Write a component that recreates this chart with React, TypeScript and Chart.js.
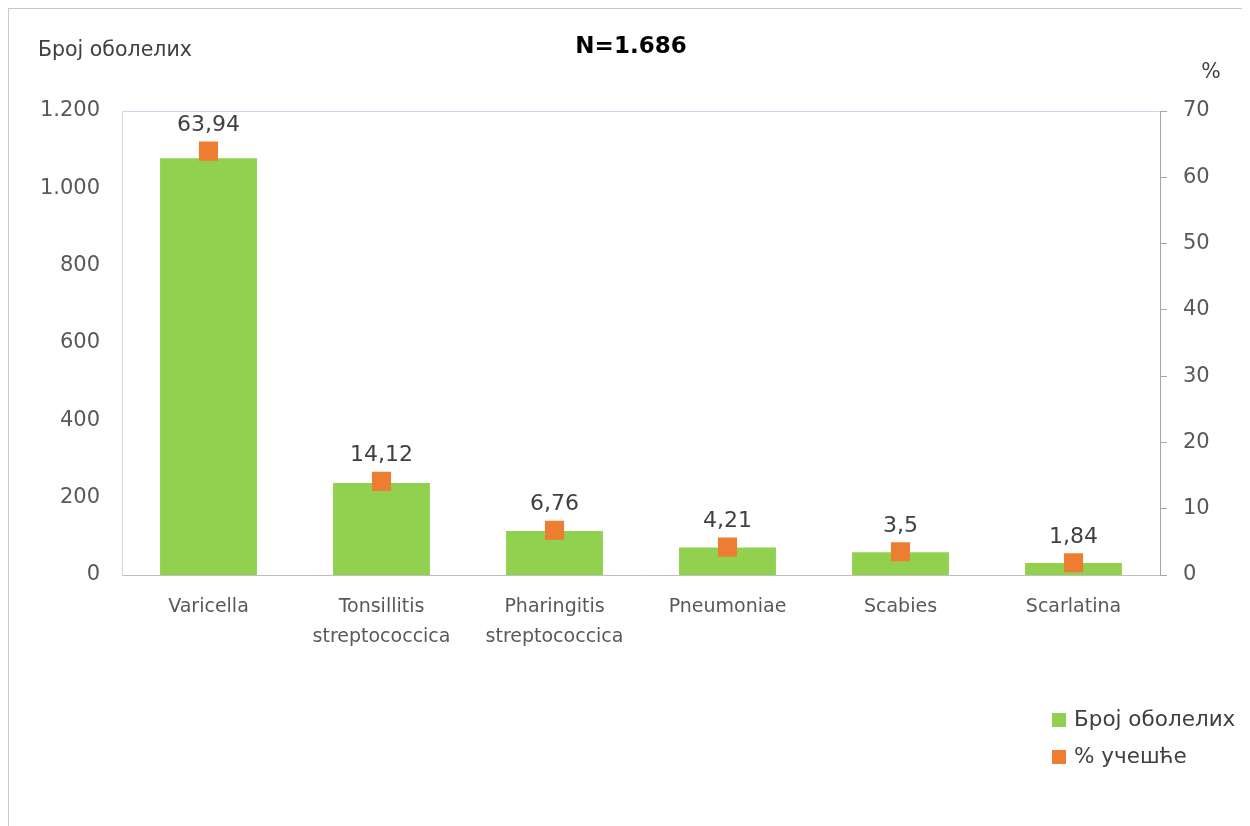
import React, { useEffect, useRef } from "react";
import { Chart, registerables } from "chart.js";

Chart.register(...registerables);

const categories: (string | string[])[] = [
  "Varicella",
  ["Tonsillitis", "streptococcica"],
  ["Pharingitis", "streptococcica"],
  "Pneumoniae",
  "Scabies",
  "Scarlatina",
];
const casesCount: number[] = [1078, 238, 114, 71, 59, 31];
const sharePercent: number[] = [63.94, 14.12, 6.76, 4.21, 3.5, 1.84];
const leftTicks: number[] = [0, 200, 400, 600, 800, 1000, 1200];
const rightTicks: number[] = [0, 10, 20, 30, 40, 50, 60, 70];

const seriesNames = ["Број оболелих", "% учешће"];
const titleText = "N=1.686";
const leftAxisTitle = "Број оболелих";
const rightAxisTitle = "%";

const GREEN = "#92D050";
const ORANGE = "#ED7D31";
const FONT = "'DejaVu Sans', sans-serif";

const fmtThousands = (v: number) =>
  String(v).replace(/\B(?=(\d{3})+(?!\d))/g, ".");

const decorPlugin = {
  id: "decor",
  afterDatasetsDraw(chart: any) {
    const ctx = chart.ctx as CanvasRenderingContext2D;
    const area = chart.chartArea;
    ctx.save();
    // top border of plot area
    ctx.strokeStyle = "#c9d7ea";
    ctx.lineWidth = 1;
    ctx.beginPath();
    ctx.moveTo(area.left, area.top + 0.5);
    ctx.lineTo(area.right, area.top + 0.5);
    ctx.stroke();

    // data labels for percentage series
    const meta = chart.getDatasetMeta(1);
    ctx.fillStyle = "#404040";
    ctx.font = `22px ${FONT}`;
    ctx.textAlign = "center";
    ctx.textBaseline = "middle";
    meta.data.forEach((pt: any, i: number) => {
      const txt = String(sharePercent[i]).replace(".", ",");
      ctx.fillText(txt, pt.x, pt.y - 26);
    });

    // titles
    ctx.fillStyle = "#000000";
    ctx.font = `bold 23px ${FONT}`;
    ctx.fillText(titleText, 622, 38);

    ctx.fillStyle = "#404040";
    ctx.font = `20.5px ${FONT}`;
    ctx.textAlign = "left";
    ctx.fillText(leftAxisTitle, 29, 42);
    ctx.textAlign = "center";
    ctx.fillText(rightAxisTitle, 1202, 64);

    // legend
    const colors = [GREEN, ORANGE];
    const ys = [711, 748];
    ctx.textAlign = "left";
    ctx.font = `21.5px ${FONT}`;
    seriesNames.forEach((name, i) => {
      ctx.fillStyle = colors[i];
      ctx.fillRect(1043, ys[i] - 7, 14, 14);
      ctx.fillStyle = "#404040";
      ctx.fillText(name, 1065, ys[i]);
    });
    ctx.restore();
  },
};

export default function App() {
  const ref = useRef<HTMLCanvasElement | null>(null);

  useEffect(() => {
    if (!ref.current) return;
    const chart = new Chart(ref.current, {
      type: "bar",
      data: {
        labels: categories as any,
        datasets: [
          {
            type: "bar",
            label: seriesNames[0],
            data: casesCount,
            backgroundColor: GREEN,
            borderWidth: 0,
            categoryPercentage: 1,
            barPercentage: 0.56,
            yAxisID: "y",
            order: 2,
          },
          {
            type: "line",
            label: seriesNames[1],
            data: sharePercent,
            showLine: false,
            pointStyle: "rect",
            pointRadius: 13.5,
            pointHoverRadius: 13.5,
            pointBackgroundColor: ORANGE,
            pointBorderWidth: 0,
            borderColor: ORANGE,
            backgroundColor: ORANGE,
            yAxisID: "y1",
            order: 1,
          } as any,
        ],
      },
      options: {
        animation: false,
        responsive: false,
        maintainAspectRatio: false,
        events: [],
        layout: { padding: { top: 102, left: 0, right: 0, bottom: 0 } },
        plugins: {
          legend: { display: false },
          title: { display: false },
          tooltip: { enabled: false },
        },
        scales: {
          x: {
            grid: { display: false, drawTicks: false },
            border: { display: true, color: "#bfbfbf", width: 1 },
            ticks: {
              color: "#595959",
              font: { family: FONT, size: 19, lineHeight: 1.58 },
              padding: 17,
              maxRotation: 0,
              autoSkip: false,
            },
            afterFit(scale: any) {
              scale.height = 254;
            },
          },
          y: {
            position: "left",
            min: 0,
            max: 1200,
            afterBuildTicks(scale: any) {
              scale.ticks = leftTicks.map((v) => ({ value: v }));
            },
            grid: { display: false, drawTicks: false },
            border: { display: true, color: "#c9d7ea", width: 1 },
            ticks: {
              color: "#595959",
              font: { family: FONT, size: 21 },
              padding: 22,
              callback: (v: any) => fmtThousands(Number(v)),
            },
            afterFit(scale: any) {
              scale.width = 113;
            },
          },
          y1: {
            position: "right",
            min: 0,
            max: 70,
            afterBuildTicks(scale: any) {
              scale.ticks = rightTicks.map((v) => ({ value: v }));
            },
            grid: {
              display: true,
              drawOnChartArea: false,
              drawTicks: true,
              tickLength: 7,
              color: "#a6a6a6",
            },
            border: { display: true, color: "#a6a6a6", width: 1 },
            ticks: {
              color: "#595959",
              font: { family: FONT, size: 21 },
              padding: 16,
            },
            afterFit(scale: any) {
              scale.width = 84;
            },
          },
        },
      },
      plugins: [decorPlugin],
    });
    return () => chart.destroy();
  }, []);

  return (
    <div
      style={{
        width: 1235,
        height: 820,
        border: "1px solid #c8c8c8",
        background: "#ffffff",
      }}
    >
      <canvas ref={ref} width={1235} height={820} style={{ display: "block" }} />
    </div>
  );
}
